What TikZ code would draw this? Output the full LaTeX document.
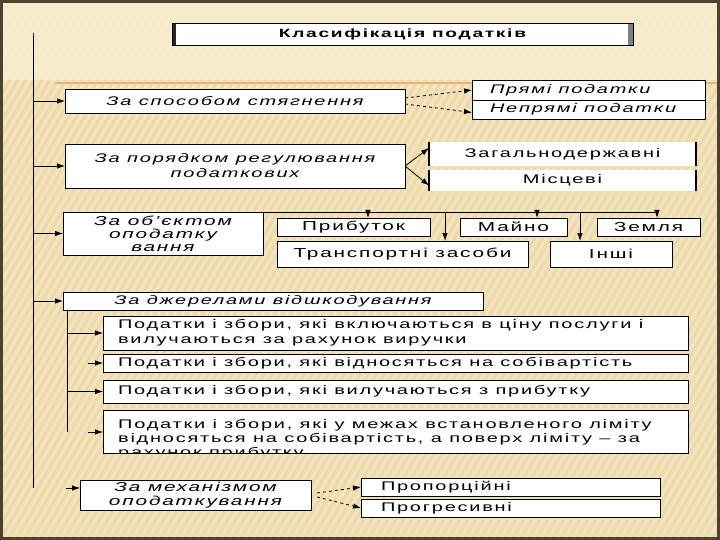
\documentclass[tikz,border=0pt]{standalone}
\usepackage{fontspec}
\setmainfont{Liberation Sans}[FakeStretch=1.6,LetterSpace=14]
\usetikzlibrary{arrows.meta,calc}
\definecolor{bgc}{HTML}{F4E4BC}
\definecolor{bgtop}{HTML}{FAF0D6}
\definecolor{stripe}{HTML}{E9D3A0}
\definecolor{framec}{HTML}{4B4232}
\definecolor{orln}{HTML}{E6B47A}
\newcommand\lbx[2]{\makebox[#1pt][l]{#2}}
\begin{document}
\begin{tikzpicture}[x=1pt,y=-1pt,
  box/.style={draw=black,line width=0.8pt,fill=white,inner sep=0pt,outer sep=0pt},
  wbox/.style={fill=white,inner sep=0pt,outer sep=0pt},
  txt/.style={font=\fontsize{12.5}{15}\selectfont},
  itx/.style={font=\fontsize{12.5}{15}\selectfont\itshape},
  arr/.style={-{Latex[length=8pt,width=5.5pt]},line width=0.8pt},
  darr/.style={arr,dashed},
  side/.style={line width=1.8pt}
]
\useasboundingbox (0,0) rectangle (720,540);
% background
\fill[bgc] (0,0) rectangle (720,540);
\begin{scope}
  \clip (0,0) rectangle (720,540);
  \foreach \i in {-320,-312,...,720} \draw[stripe,line width=3pt,opacity=0.6] (\i,540) -- ({\i+312},0);
  \fill[bgtop,opacity=0.75] (0,0) rectangle (720,80);
\end{scope}
\draw[orln,line width=1.2pt] (55,83) -- (720,83);
\draw[framec,line width=3pt] (1.5,1.5) rectangle (718.5,538.5);

% title
\node[box,minimum width=461pt,minimum height=22pt,font=\fontsize{12}{14}\selectfont\bfseries] (title) at (402.5,34) {Класифікація податків};
\fill[black!85] (title.north west) rectangle ([xshift=4pt]title.south west);
\fill[gray] ([xshift=-5pt]title.north east) rectangle (title.south east);
\draw[line width=0.8pt] (title.north east) rectangle (title.south west);

% row 1
\node[box,itx,minimum width=340pt,minimum height=24pt] (r1) at (235,101) {За способом стягнення};
\node[box,itx,minimum width=233pt,minimum height=20pt] (pr1) at (588.5,90) {\lbx{197}{Прямі податки}};
\node[box,itx,minimum width=233pt,minimum height=19pt] (pr2) at (588.5,109.5) {\lbx{197}{Непрямі податки}};

% row 2
\node[box,itx,minimum width=340pt,minimum height=44pt,align=center] (r2) at (235,166) {За порядком регулювання\\податкових};
\node[wbox,txt,minimum width=267pt,minimum height=24pt] (zag) at (562.5,154) {Загальнодержавні};
\node[wbox,txt,minimum width=267pt,minimum height=21pt] (mis) at (562.5,180.5) {Місцеві};
\draw[side] (zag.north west) -- (zag.south west) (zag.north east) -- (zag.south east);
\draw[side] (mis.north west) -- (mis.south west) (mis.north east) -- (mis.south east);

% row 3
\node[box,font=\fontsize{13}{13}\selectfont\itshape,minimum width=200pt,minimum height=43pt,align=center] (r3) at (163,233.5) {За об'єктом\\оподатку\\вання};
\node[box,font=\fontsize{13}{15}\selectfont,minimum width=153pt,minimum height=18pt] (prib) at (353.5,227) {Прибуток};
\node[box,font=\fontsize{13}{15}\selectfont,minimum width=107pt,minimum height=18pt] (mayno) at (513.5,227) {Майно};
\node[box,font=\fontsize{13}{15}\selectfont,minimum width=103pt,minimum height=18pt] (zem) at (648.5,227) {Земля};
\node[box,font=\fontsize{13}{15}\selectfont,minimum width=251pt,minimum height=26pt] (trans) at (402.5,254) {Транспортні засоби};
\node[box,font=\fontsize{13}{15}\selectfont,minimum width=122pt,minimum height=26pt] (inshi) at (611,254) {Інші};

% row 4
\node[box,itx,minimum width=420pt,minimum height=18pt] (r4) at (273,301) {За джерелами відшкодування};
\node[box,txt,minimum width=585pt,minimum height=34pt,align=left] (s1) at (395.5,333) {\lbx{555}{Податки і збори, які включаються в ціну послуги і}\\\lbx{555}{вилучаються за рахунок виручки}};
\node[box,txt,minimum width=585pt,minimum height=18pt] (s2) at (395.5,363) {\lbx{555}{Податки і збори, які відносяться на собівартість}};
\node[box,txt,minimum width=585pt,minimum height=23pt] (s3) at (395.5,391.5) {\lbx{555}{Податки і збори, які вилучаються з прибутку}};
\node[box,minimum width=585pt,minimum height=43pt] (s4) at (395.5,431.5) {};
\begin{scope}
  \clip (s4.north west) rectangle (s4.south east);
  \node[txt,font=\fontsize{12.5}{14}\selectfont,anchor=north west,align=left,inner sep=0pt] (s4t) at ([xshift=15pt,yshift=-9pt]s4.north west) {Податки і збори, які у межах встановленого ліміту\\відносяться на собівартість, а поверх ліміту – за\\рахунок прибутку};
\end{scope}
\draw[line width=0.8pt] (s4.north west) rectangle (s4.south east);

% row 5
\node[box,minimum width=231pt,minimum height=30pt,align=center,font=\fontsize{13}{14}\selectfont\itshape] (r5) at (195.5,495) {За механізмом\\оподаткування};
\node[box,txt,minimum width=299pt,minimum height=18pt] (prop) at (510.5,487) {\lbx{259}{Пропорційні}};
\node[box,txt,minimum width=299pt,minimum height=18pt] (prog) at (510.5,508) {\lbx{259}{Прогресивні}};

% main spine
\coordinate (mtop) at (33,33);
\coordinate (mbot) at (33,488);
\draw[line width=0.8pt] (mtop) -- (mbot);
\draw[arr] (mtop |- r1.west) -- (r1.west);
\draw[arr] (mtop |- r2.west) -- (r2.west);
\draw[arr] (mtop |- r3.west) -- (r3.west);
\draw[arr] (mtop |- r4.west) -- (r4.west);
\coordinate (a5) at (66,488);
\draw[arr] (a5) -- (r5.west |- a5);

% row 1 connectors
\draw[darr] ($(r1.east)+(0,-3)$) -- (pr1.west);
\draw[darr] ($(r1.east)+(0,3)$) -- ($(pr2.west)+(0,3)$);
% row 2 connectors
\draw[arr] (r2.east) -- ($(zag.west)+(0,-6)$);
\draw[arr] (r2.east) -- ($(mis.west)+(0,5)$);
% row 3 connectors
\coordinate (tl) at (657,212);
\draw[line width=0.8pt] (r3.north east) -- (tl);
\coordinate (d1) at (368,212);
\coordinate (d2) at (445,212);
\coordinate (d3) at (537,212);
\coordinate (d4) at (580,212);
\draw[arr] (d1) -- (d1 |- prib.north);
\draw[arr] (d2) -- (d2 |- trans.north);
\draw[arr] (d3) -- (d3 |- mayno.north);
\draw[arr] (d4) -- (d4 |- inshi.north);
\draw[arr] (tl) -- (tl |- zem.north);
% row 4 connectors
\coordinate (itop) at (67,310);
\coordinate (ibot) at (67,432);
\draw[line width=0.8pt] (itop) -- (ibot);
\draw[arr] (itop |- s1.west) -- (s1.west);
\coordinate (a2) at (88,363);
\draw[arr] (a2) -- (s2.west);
\draw[arr] (itop |- s3.west) -- (s3.west);
\coordinate (a4) at (88,432);
\draw[arr] (a4) -- (s4.west |- a4);
% row 5 connectors
\draw[darr] ($(r5.east)+(6,-2)$) -- (prop.west);
\draw[darr] ($(r5.east)+(6,2)$) -- (prog.west);
\end{tikzpicture}
\end{document}
